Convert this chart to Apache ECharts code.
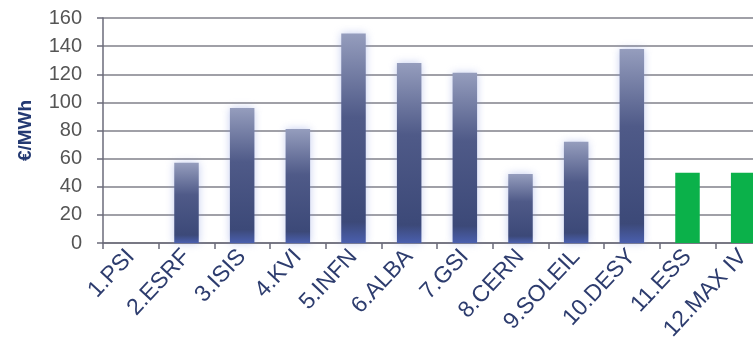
<!DOCTYPE html>
<html><head><meta charset="utf-8">
<script src="https://cdn.jsdelivr.net/npm/echarts@6/dist/echarts.min.js"></script>
<style>html,body{margin:0;padding:0;background:#fff}#c{width:753px;height:343px}</style>
</head><body><div id="c"></div>
<script>
const categories = ['1.PSI','2.ESRF','3.ISIS','4.KVI','5.INFN','6.ALBA','7.GSI','8.CERN','9.SOLEIL','10.DESY','11.ESS','12.MAX IV'];
const values = [0, 57, 96, 81, 149, 128, 121, 49, 72, 138, 50, 50];
const isNew = [false,false,false,false,false,false,false,false,false,false,true,true];
const yTicks = [0,20,40,60,80,100,120,140,160];

const blueGrad = new echarts.graphic.LinearGradient(0,0,0,1,[
  {offset:0, color:'#959dbd'},
  {offset:0.4, color:'#4f5a88'},
  {offset:0.9, color:'#3c4978'},
  {offset:1, color:'#4a5fae'}
]);
const chart = echarts.init(document.getElementById('c'));
chart.setOption({
  animation:false,
  grid:{left:103, top:18, bottom:100, right:-18, containLabel:false, outerBoundsMode:'none'},
  xAxis:{type:'category', data:categories,
    axisLine:{lineStyle:{color:'#6b6b7a', width:1.5}},
    axisTick:{show:true, length:6, lineStyle:{color:'#6b6b7a', width:1.5}},
    axisLabel:{rotate:47, interval:0, color:'#2d3c6e', fontSize:23, fontFamily:'Liberation Sans', margin:10}},
  yAxis:{type:'value', min:0, max:160, interval:20,
    name:'€/MWh', nameLocation:'middle', nameGap:68,
    nameTextStyle:{color:'#243a72', fontSize:19, fontWeight:'bold', fontFamily:'Liberation Sans'},
    axisLine:{show:true, lineStyle:{color:'#6b6b7a', width:1.5}},
    axisTick:{show:true, length:6, lineStyle:{color:'#6b6b7a', width:1.5}},
    axisLabel:{color:'#555', fontSize:20, fontFamily:'Liberation Sans', margin:21,
      formatter:v=> yTicks.includes(v) ? String(v) : ''},
    splitLine:{lineStyle:{color:'#80808a', width:1.5}}},
  series:[{type:'bar', barWidth:'44%',
    data: values.map((v,i)=>({value:v, itemStyle: isNew[i] ? {color:'#0bb14a'} : {color:blueGrad, shadowBlur:8, shadowColor:'rgba(120,140,220,0.45)'}}))
  }]
});
</script></body></html>
